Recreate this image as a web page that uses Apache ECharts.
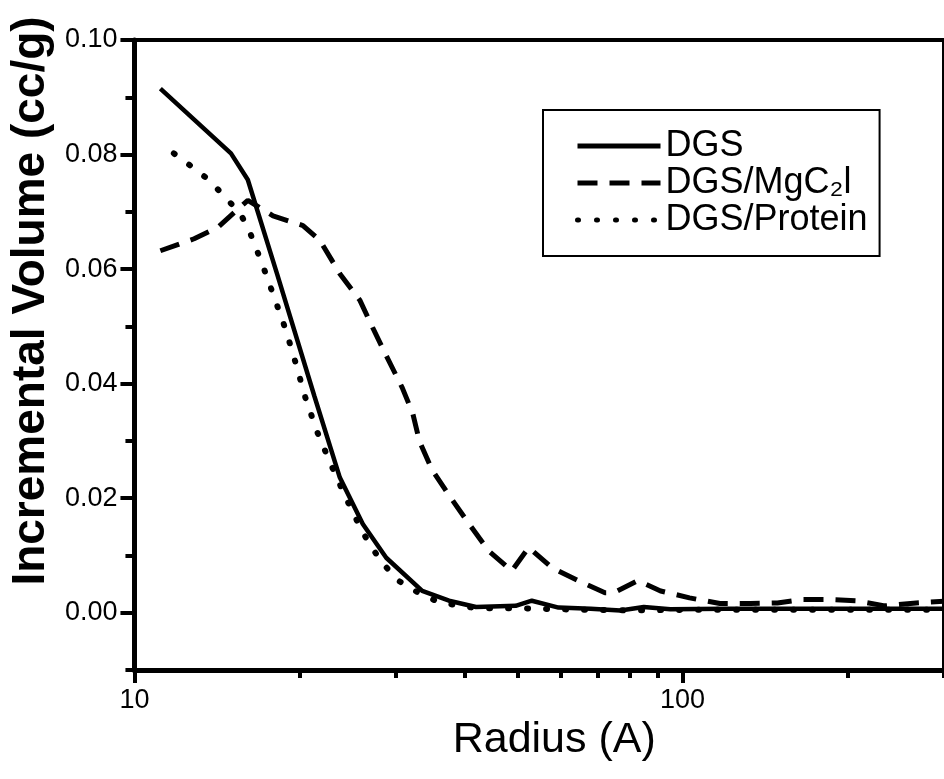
<!DOCTYPE html>
<html>
<head>
<meta charset="utf-8">
<script src="https://cdn.jsdelivr.net/npm/echarts@6/dist/echarts.min.js"></script>
<style>
html,body{margin:0;padding:0;background:#fff;}
#c{width:944px;height:779px;}
</style>
</head>
<body>
<div id="c"></div>
<script>
// ---- data ----
const seriesNames = ['DGS', 'DGS/MgC\u2082l', 'DGS/Protein'];

const dgsRadius = [11.15, 15.0, 16.1, 18.2, 21.3, 23.7, 26.1, 28.8, 33.5, 37.5, 42, 49.6, 53.1, 59.4, 68, 77, 85, 95, 120, 150, 200, 300];
const dgsVolume = [0.0915, 0.0802, 0.0756, 0.0592, 0.0378, 0.0236, 0.0155, 0.0096, 0.0038, 0.0021, 0.0010, 0.0012, 0.0021, 0.0009, 0.0007, 0.0004, 0.0010, 0.0006, 0.0007, 0.0007, 0.0007, 0.0007];

const mgRadius = [11.15, 12.85, 14.2, 16.1, 17.9, 20.3, 21.8, 23.7, 25.8, 27.2, 28.8, 30.8, 32.2, 33.1, 34.9, 37.5, 40.8, 44.3, 48.8, 52.4, 57.7, 64.5, 72.2, 75, 82.9, 91.2, 103, 117, 133, 149, 166, 185, 207, 234, 267, 300];
const mgVolume = [0.0632, 0.0653, 0.0673, 0.0720, 0.0693, 0.0676, 0.0650, 0.0592, 0.0545, 0.0498, 0.0449, 0.0393, 0.0348, 0.0300, 0.0250, 0.0205, 0.0155, 0.0108, 0.0073, 0.0114, 0.0079, 0.0056, 0.0035, 0.0035, 0.0056, 0.0038, 0.0026, 0.0016, 0.0016, 0.0017, 0.0023, 0.0023, 0.0021, 0.0012, 0.0017, 0.0020];

const protRadius = [11.8, 12.8, 13.7, 15.6, 16.2, 17.15, 18.0, 18.9, 19.7, 20.5, 21.5, 22.8, 24.3, 26.0, 27.1, 28.4, 30.3, 32.7, 36, 42, 50, 60, 80, 100, 150, 200, 300];
const protVolume = [0.0802, 0.0777, 0.0755, 0.0697, 0.0667, 0.0606, 0.0550, 0.0493, 0.0435, 0.0376, 0.0318, 0.0260, 0.0201, 0.0143, 0.0114, 0.0086, 0.0056, 0.0037, 0.0018, 0.0008, 0.0008, 0.0006, 0.0004, 0.0005, 0.0005, 0.0005, 0.0005];

const xMajorTicks = [10, 100];
const xMinorTicks = [20, 30, 40, 50, 60, 70, 80, 90, 200, 300];
const yMajorTicks = [0, 0.02, 0.04, 0.06, 0.08, 0.10];
const yMinorTicks = [-0.01, 0.01, 0.03, 0.05, 0.07, 0.09];

const xAxisName = 'Radius (A)';
const yAxisName = 'Incremental Volume (cc/g)';

// ---- chart ----
const zip = (xs, ys) => xs.map((x, i) => [x, ys[i]]);
const FONT = 'Liberation Sans, Arial, Helvetica, sans-serif';
const chart = echarts.init(document.getElementById('c'), null, {renderer: 'canvas'});

chart.setOption({
  animation: false,
  backgroundColor: '#fff',
  textStyle: {fontFamily: FONT, color: '#000'},
  grid: {
    left: 133, top: 40, width: 815, height: 630,
    show: true, borderColor: '#000', borderWidth: 4, backgroundColor: 'transparent'
  },
  legend: {
    orient: 'vertical',
    left: 543, top: 110,
    itemWidth: 83, itemHeight: 20, itemGap: 1,
    padding: [18, 12, 18, 32],
    borderColor: '#000', borderWidth: 2,
    itemStyle: {opacity: 0},
    lineStyle: {width: 5},
    textStyle: {fontFamily: FONT, fontSize: 36, lineHeight: 36, color: '#000'},
    data: seriesNames
  },
  xAxis: [
    {
      type: 'log', logBase: 10, min: 10, max: 300, position: 'bottom',
      axisLine: {onZero: false, lineStyle: {color: '#000', width: 5}},
      axisTick: {show: true, customValues: xMajorTicks, length: 13, lineStyle: {color: '#000', width: 4}},
      axisLabel: {customValues: xMajorTicks, fontSize: 27, color: '#000', fontFamily: FONT, margin: 17},
      splitLine: {show: false},
      name: xAxisName, nameLocation: 'middle', nameGap: 46,
      nameTextStyle: {fontSize: 43, color: '#000', fontFamily: FONT, padding: [0, 0, 0, 30]}
    },
    {
      type: 'log', logBase: 10, min: 10, max: 300, position: 'bottom',
      axisLine: {show: false, onZero: false},
      axisTick: {show: true, customValues: xMinorTicks, length: 8, lineStyle: {color: '#000', width: 4}},
      axisLabel: {show: false},
      splitLine: {show: false}
    }
  ],
  yAxis: [
    {
      type: 'value', min: -0.01, max: 0.10, position: 'left',
      axisLine: {show: true, onZero: false, lineStyle: {color: '#000', width: 5}},
      axisTick: {show: true, customValues: yMajorTicks, length: 14, lineStyle: {color: '#000', width: 4}},
      axisLabel: {customValues: yMajorTicks, fontSize: 27, color: '#000', fontFamily: FONT, margin: 17,
        formatter: v => v.toFixed(2)},
      splitLine: {show: false},
      name: yAxisName, nameLocation: 'middle', nameGap: 80,
      nameTextStyle: {fontSize: 46, fontWeight: 'bold', color: '#000', fontFamily: FONT, padding: [0, 0, 0, 108]}
    },
    {
      type: 'value', min: -0.01, max: 0.10, position: 'left',
      axisLine: {show: false, onZero: false},
      axisTick: {show: true, customValues: yMinorTicks, length: 9, lineStyle: {color: '#000', width: 4}},
      axisLabel: {show: false},
      splitLine: {show: false}
    }
  ],
  series: [
    {
      name: seriesNames[0], type: 'line', xAxisIndex: 0, yAxisIndex: 0,
      data: zip(dgsRadius, dgsVolume), symbol: 'none',
      lineStyle: {color: '#000', width: 4.5, type: 'solid'}, itemStyle: {color: '#000'}
    },
    {
      name: seriesNames[1], type: 'line', xAxisIndex: 0, yAxisIndex: 0,
      data: zip(mgRadius, mgVolume), symbol: 'none',
      lineStyle: {color: '#000', width: 5, type: [20, 12]}, itemStyle: {color: '#000'}
    },
    {
      name: seriesNames[2], type: 'line', xAxisIndex: 0, yAxisIndex: 0,
      data: zip(protRadius, protVolume), symbol: 'none',
      lineStyle: {color: '#000', width: 6, type: [1, 18], cap: 'round'}, itemStyle: {color: '#000'}
    }
  ]
});
</script>
</body>
</html>
